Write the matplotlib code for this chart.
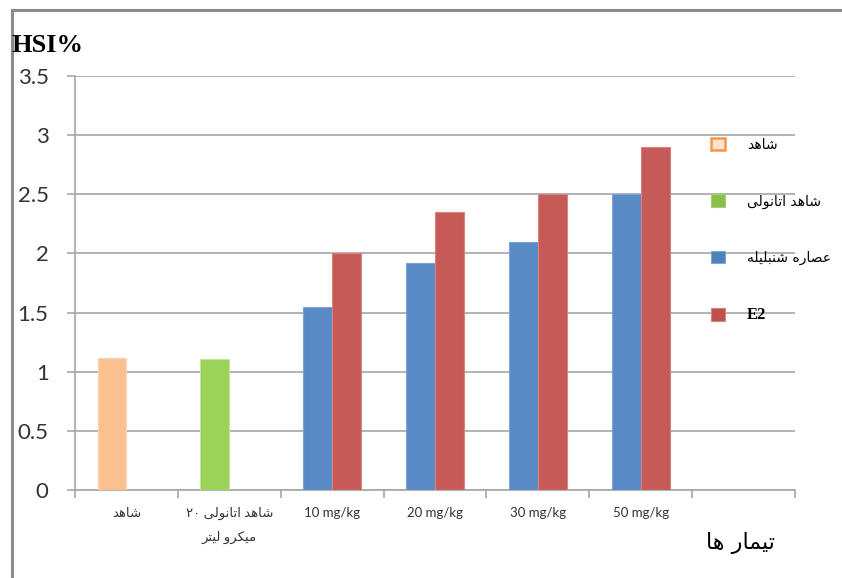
import numpy as np
import matplotlib.pyplot as plt
from matplotlib.patches import Patch, Rectangle

# --- data ---------------------------------------------------------------
categories = ["شاهد", "شاهد اتانولی ۲۰\nمیکرو لیتر",
              "10 mg/kg", "20 mg/kg", "30 mg/kg", "50 mg/kg", ""]
series_names = ["شاهد", "شاهد اتانولی", "عصاره شنبلیله", "E2"]
nan = np.nan
control = [1.12, nan, nan, nan, nan, nan, nan]
ethanol = [nan, 1.11, nan, nan, nan, nan, nan]
extract = [nan, nan, 1.55, 1.92, 2.10, 2.50, nan]
e2 = [nan, nan, 2.00, 2.35, 2.50, 2.90, nan]
y_ticks = [0, 0.5, 1, 1.5, 2, 2.5, 3, 3.5]
y_label = "HSI%"
x_label = "تیمار ها"

# --- minimal Persian shaping (matplotlib has no bidi/shaping) -----------
FORMS = {  # isolated, final, initial, medial
    "ا": ("\uFE8D", "\uFE8E"), "د": ("\uFEA9", "\uFEAA"),
    "ر": ("\uFEAD", "\uFEAE"), "و": ("\uFEED", "\uFEEE"),
    "ب": ("\uFE8F", "\uFE90", "\uFE91", "\uFE92"),
    "ت": ("\uFE95", "\uFE96", "\uFE97", "\uFE98"),
    "ش": ("\uFEB5", "\uFEB6", "\uFEB7", "\uFEB8"),
    "ص": ("\uFEB9", "\uFEBA", "\uFEBB", "\uFEBC"),
    "ع": ("\uFEC9", "\uFECA", "\uFECB", "\uFECC"),
    "ل": ("\uFEDD", "\uFEDE", "\uFEDF", "\uFEE0"),
    "م": ("\uFEE1", "\uFEE2", "\uFEE3", "\uFEE4"),
    "ن": ("\uFEE5", "\uFEE6", "\uFEE7", "\uFEE8"),
    "ه": ("\uFEE9", "\uFEEA", "\uFEEB", "\uFEEC"),
    "ی": ("\uFBFC", "\uFBFD", "\uFBFE", "\uFBFF"),
    "ک": ("\uFB8E", "\uFB8F", "\uFB90", "\uFB91"),
}


def shape_word(word):
    if not any(c in FORMS for c in word):
        return word
    out = []
    for i, c in enumerate(word):
        if c not in FORMS:
            out.append(c)
            continue
        prev = word[i - 1] if i > 0 else None
        nxt = word[i + 1] if i < len(word) - 1 else None
        jp = prev in FORMS and len(FORMS[prev]) == 4
        jn = nxt in FORMS and len(FORMS[c]) == 4
        f = FORMS[c]
        if jp and jn:
            out.append(f[3])
        elif jp:
            out.append(f[1])
        elif jn:
            out.append(f[2])
        else:
            out.append(f[0])
    return "".join(reversed(out))


def fa(text):
    # right-to-left: shape each word, then lay the words out from the right
    lines = []
    for line in text.split("\n"):
        words = [shape_word(w) for w in line.split(" ")]
        if any(ch in FORMS for ch in line):
            words = words[::-1]
        lines.append(" ".join(words))
    return "\n".join(lines)


# --- figure -------------------------------------------------------------
fig = plt.figure(figsize=(8.42, 5.78), dpi=100)
ax = fig.add_axes([75 / 842, 88 / 578, 720 / 842, 414 / 578])

grey = "#a6a6a6"
x = np.arange(len(categories))
w = 0.28
bar_kw = dict(width=w, zorder=3, linewidth=0.8)
ax.bar(x - w / 2, control, color="#FAC090", edgecolor="#FCD5B4", **bar_kw)
ax.bar(x - w / 2, ethanol, color="#9BD35A", edgecolor="#C4E59B", **bar_kw)
ax.bar(x - w / 2, extract, color="#5A8AC6", edgecolor="#7FA4D4", **bar_kw)
ax.bar(x + w / 2, e2, color="#C65A57", edgecolor="#D98380", **bar_kw)

ax.set_xlim(-0.5, len(categories) - 0.5)
ax.set_ylim(0, 3.5)
ax.set_yticks(y_ticks)
ax.set_yticklabels([f"{t:g}" for t in y_ticks])
ax.yaxis.grid(True, color=grey, linewidth=1.2, zorder=0)
ax.set_axisbelow(True)

# category boundaries as major ticks, names on minor ticks
ax.set_xticks(np.arange(len(categories) + 1) - 0.5)
ax.set_xticklabels([])
ax.set_xticks(x, minor=True)
ax.set_xticklabels([fa(c) for c in categories], minor=True, linespacing=2.1,
                   family=["Lato", "DejaVu Sans"], fontsize=9.5, color="#333333")
ax.tick_params(axis="x", which="major", length=6, color=grey, width=1.2)
ax.tick_params(axis="x", which="minor", length=0, pad=12)
ax.tick_params(axis="y", length=6, color=grey, width=1.2, pad=13,
               labelsize=16, labelcolor="#333333")
for lab in ax.get_yticklabels():
    lab.set_family(["Lato", "DejaVu Sans"])

for side in ("top", "right"):
    ax.spines[side].set_visible(False)
for side in ("left", "bottom"):
    ax.spines[side].set_color(grey)
    ax.spines[side].set_linewidth(1.2)

fig.text(12 / 842, 1 - 45 / 578, y_label, fontsize=19, fontweight="bold",
         family="Liberation Serif", va="center", ha="left")
fig.text(740 / 842, 1 - 543 / 578, fa(x_label), fontsize=16,
         family="DejaVu Sans", va="center", ha="center")

handles = [
    Patch(facecolor="#FDE4CF", edgecolor="#F79646", linewidth=1.8),
    Patch(facecolor="#8BBF4A", edgecolor="#A6CF70", linewidth=0.8),
    Patch(facecolor="#4F81BD", edgecolor="#7FA4D4", linewidth=0.8),
    Patch(facecolor="#C0504D", edgecolor="#D98380", linewidth=0.8),
]
leg = fig.legend(handles, [fa(s) for s in series_names], loc="upper left",
                 bbox_to_anchor=(704 / 842, 1 - 131 / 578), frameon=False,
                 handlelength=1.0, handleheight=1.0,
                 handletextpad=1.6, labelspacing=3.05, borderpad=0,
                 prop={"family": ["DejaVu Sans"], "size": 10})
for t in leg.get_texts():
    if t.get_text() == "E2":
        t.set_family("Liberation Serif")
        t.set_fontweight("bold")
        t.set_fontsize(12)

# outer frame of the chart area
fig.add_artist(Rectangle((12 / 842, -0.2), 1.2, 1.2 - 10 / 578,
                         transform=fig.transFigure, fill=False,
                         edgecolor="#8c8c8c", linewidth=2.2))

fig.savefig("out.png", dpi=100)
